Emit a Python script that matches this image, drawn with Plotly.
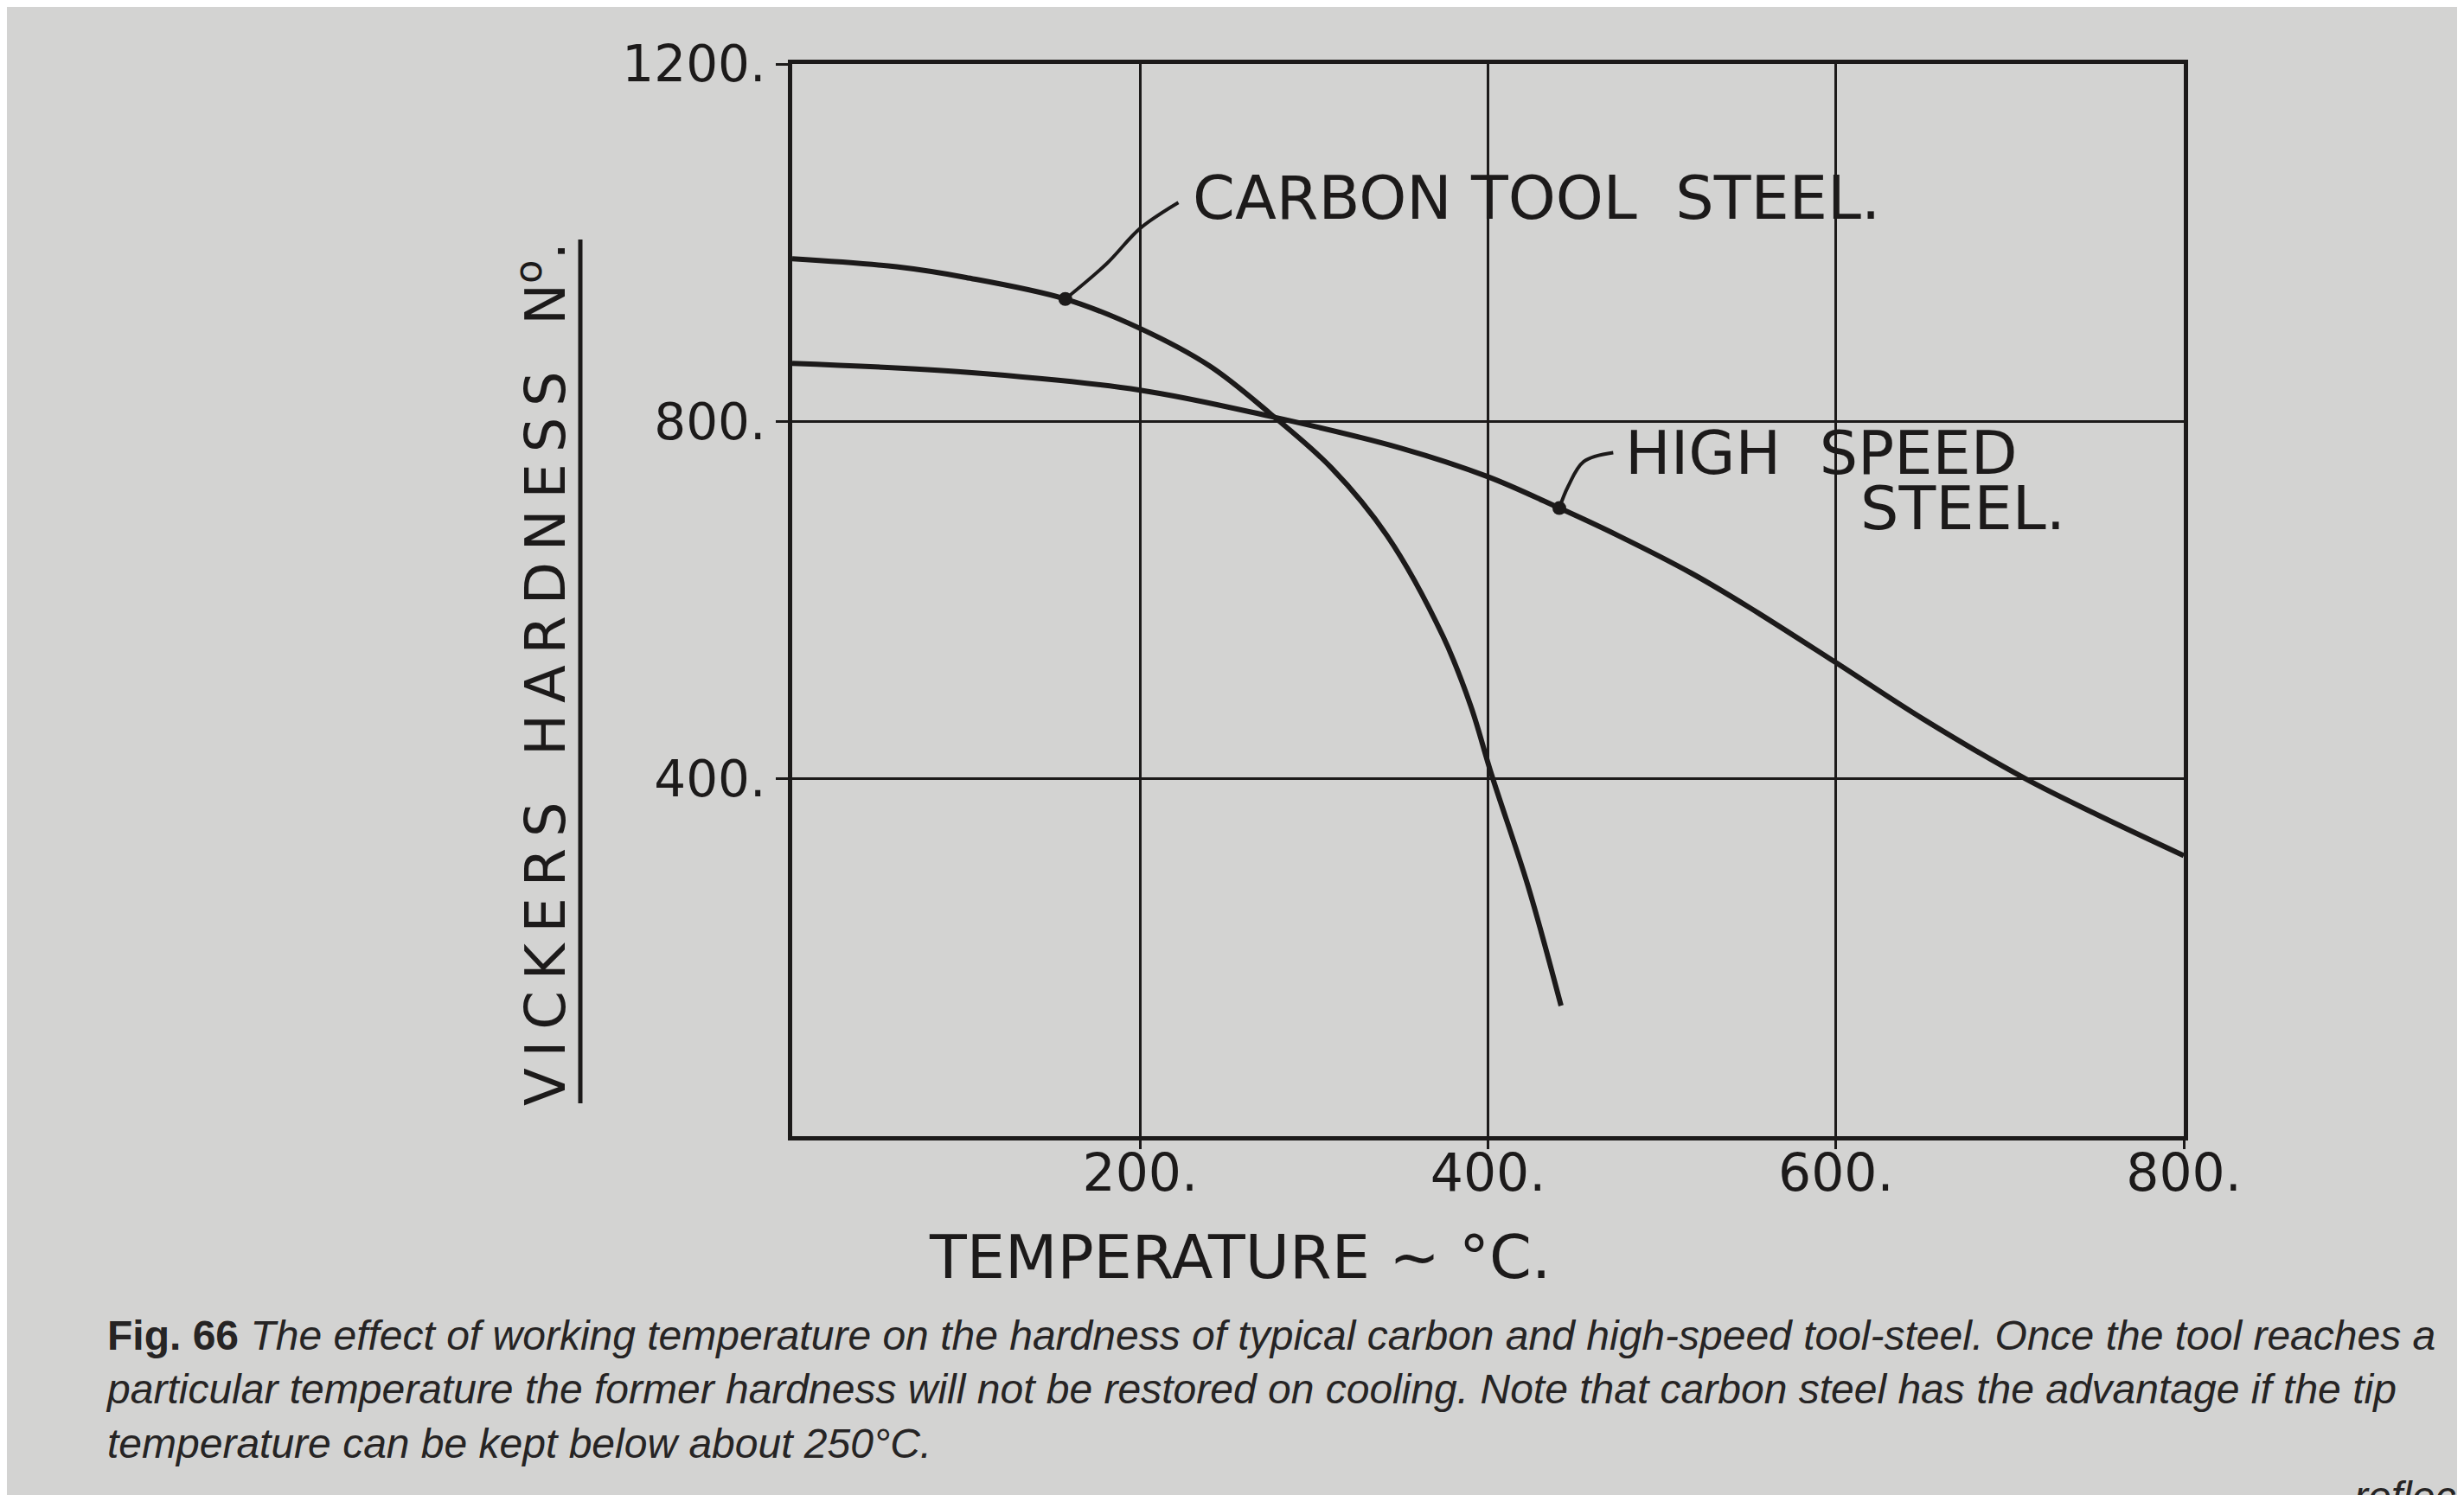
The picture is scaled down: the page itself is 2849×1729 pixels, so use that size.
import plotly.graph_objects as go

# ---------------- data ----------------
temp_carbon = [0, 60, 100, 157, 200, 240, 274, 310, 342, 374, 390, 402, 423, 442]
hard_carbon = [982, 973, 961, 937, 904, 862, 810, 748, 672, 560, 482, 405, 280, 146]

temp_hss = [0, 100, 200, 274, 350, 400, 441, 475, 517, 550, 600, 650, 709, 750, 800]
hard_hss = [865, 855, 835, 806, 770, 738, 703, 672, 630, 592, 530, 467, 400, 360, 314]

# labelled points and their leader lines
carbon_dot = (157, 937)
carbon_leader_t = [157, 181, 200, 222]
carbon_leader_v = [937, 977, 1016, 1045]
hss_dot = (441, 703)
hss_leader_t = [441, 446, 455, 472]
hss_leader_v = [703, 727, 755, 765]

x_ticks = [200, 400, 600, 800]
x_tick_text = ["200.", "400.", "600.", "800."]
y_ticks = [400, 800, 1200]
y_tick_text = ["400.", "800.", "1200."]

carbon_label = "CARBON TOOL\u00a0\u00a0STEEL."
hss_label_1 = "HIGH\u00a0\u00a0SPEED"
hss_label_2 = "STEEL."
x_title = "TEMPERATURE\u00a0~\u00a0°C."
y_title_words = ["VICKERS", "HARDNESS", "N"]
caption = ("<b>Fig. 66</b> <i>The effect of working temperature on the hardness of typical carbon and high-speed tool-steel. Once the tool reaches a</i><br>"
           "<i>particular temperature the former hardness will not be restored on cooling. Note that carbon steel has the advantage if the tip</i><br>"
           "<i>temperature can be kept below about 250°C.</i>")
tail_word = "reflective"

# ---------------- style ----------------
INK = "#1c1a1a"
PAPER = "#d3d3d2"
FONT = "DejaVu Sans"
THIN = "\u2009"

W, H = 2849, 1729
L, R, T, B = 908, 332, 66, 423
PW, PH = W - L - R, H - T - B


def px(X):
    return (X - L) / PW


def py(Y):
    return (H - B - Y) / PH


y_title = ("\u00a0" + THIN + "\u00a0").join(THIN.join(w) for w in y_title_words) + "<sup>o</sup>."

fig = go.Figure()

fig.add_trace(go.Scatter(x=temp_carbon, y=hard_carbon, mode="lines",
                         line=dict(color=INK, width=6, shape="spline", smoothing=1.0),
                         hoverinfo="skip", showlegend=False))
fig.add_trace(go.Scatter(x=temp_hss, y=hard_hss, mode="lines",
                         line=dict(color=INK, width=6, shape="spline", smoothing=1.0),
                         hoverinfo="skip", showlegend=False))
fig.add_trace(go.Scatter(x=carbon_leader_t, y=carbon_leader_v, mode="lines",
                         line=dict(color=INK, width=4, shape="spline"),
                         hoverinfo="skip", showlegend=False))
fig.add_trace(go.Scatter(x=hss_leader_t, y=hss_leader_v, mode="lines",
                         line=dict(color=INK, width=4, shape="spline"),
                         hoverinfo="skip", showlegend=False))
fig.add_trace(go.Scatter(x=[carbon_dot[0], hss_dot[0]], y=[carbon_dot[1], hss_dot[1]],
                         mode="markers", marker=dict(color=INK, size=16),
                         hoverinfo="skip", showlegend=False))

annotations = [
    dict(x=229, y=1050, xref="x", yref="y", text=carbon_label, showarrow=False,
         xanchor="left", yanchor="middle", font=dict(family=FONT, size=70, color=INK)),
    dict(x=478, y=765, xref="x", yref="y", text=hss_label_1, showarrow=False,
         xanchor="left", yanchor="middle", font=dict(family=FONT, size=70, color=INK)),
    dict(x=613, y=703, xref="x", yref="y", text=hss_label_2, showarrow=False,
         xanchor="left", yanchor="middle", font=dict(family=FONT, size=70, color=INK)),
    dict(x=px(1425), y=py(1446), xref="paper", yref="paper", text=x_title, showarrow=False,
         xanchor="center", yanchor="middle", font=dict(family=FONT, size=70, color=INK)),
    dict(x=px(618), y=py(772), xref="paper", yref="paper", text=y_title, showarrow=False,
         textangle=-90, xanchor="center", yanchor="middle",
         font=dict(family=FONT, size=64, color=INK)),
    dict(x=px(112), y=py(1508), xref="paper", yref="paper", text=caption, showarrow=False,
         xanchor="left", yanchor="top", align="left",
         font=dict(family="Liberation Sans", size=48, color="#262424")),
    dict(x=px(2712), y=py(1694), xref="paper", yref="paper", text="<i>" + tail_word + "</i>",
         showarrow=False, xanchor="left", yanchor="top",
         font=dict(family="Liberation Sans", size=48, color="#262424")),
]

# soft page shading, slightly darker toward the left edge of the photographed page
shapes = []
n_steps = 40
for i in range(n_steps):
    x1 = 1100 * (i + 1) / n_steps
    shapes.append(dict(type="rect", xref="paper", yref="paper", layer="below",
                       x0=px(0), x1=px(x1), y0=py(H), y1=py(0),
                       fillcolor="#3a3426", opacity=0.0014, line=dict(width=0)))
shapes.append(dict(type="line", xref="paper", yref="paper", x0=px(663), x1=px(663),
                   y0=py(269), y1=py(1268), line=dict(color=INK, width=5)))

fig.update_layout(
    width=W, height=H, autosize=False,
    margin=dict(l=L, r=R, t=T, b=B, pad=0),
    paper_bgcolor=PAPER, plot_bgcolor="rgba(0,0,0,0)",
    annotations=annotations, shapes=shapes,
    showlegend=False,
    xaxis=dict(range=[0, 800], tickvals=x_ticks, ticktext=x_tick_text,
               showgrid=True, gridcolor=INK, gridwidth=3,
               showline=True, linecolor=INK, linewidth=5, mirror=True,
               ticks="outside", ticklen=10, tickwidth=3, tickcolor=INK,
               ticklabelstandoff=-24,
               zeroline=False, tickfont=dict(family=FONT, size=60, color=INK),
               fixedrange=True),
    yaxis=dict(range=[0, 1200], tickvals=y_ticks, ticktext=y_tick_text,
               showgrid=True, gridcolor=INK, gridwidth=3,
               showline=True, linecolor=INK, linewidth=5, mirror=True,
               ticks="outside", ticklen=14, tickwidth=3, tickcolor=INK,
               zeroline=False, tickfont=dict(family=FONT, size=58, color=INK),
               fixedrange=True),
)

fig.write_html("out.html")
